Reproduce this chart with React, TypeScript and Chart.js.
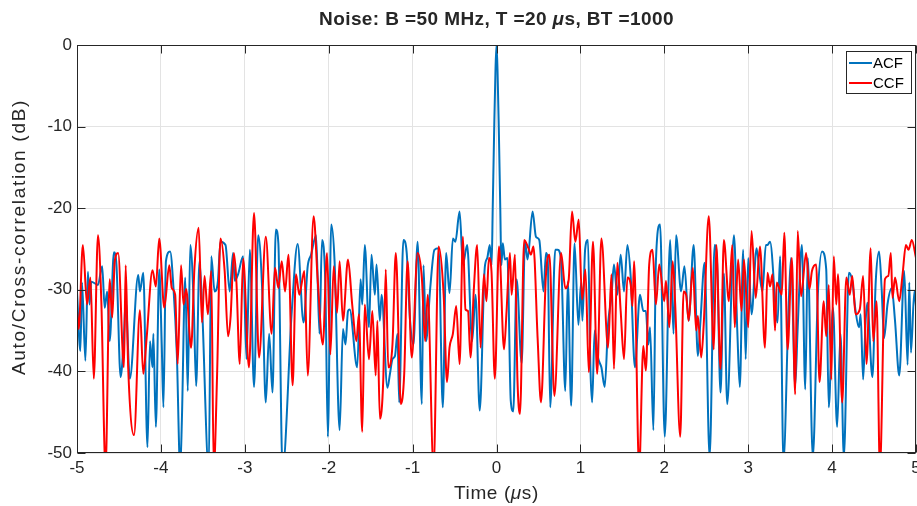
import React, { useEffect, useRef } from "react";
import { Chart, registerables } from "chart.js";

Chart.register(...registerables);

// ---------------- data ----------------
const xTickValues = [-5, -4, -3, -2, -1, 0, 1, 2, 3, 4, 5];
const yTickValues = [0, -10, -20, -30, -40, -50];

const chartTitleParts = ["Noise: B =50 MHz, T =20 ", "\u03bc", "s, BT =1000"];
const xTitleParts = ["Time (", "\u03bc", "s)"];
const yTitleParts = ["Auto/Cross-correlation (dB)"];
const seriesNames = ["ACF", "CCF"];

const acfTime = [
  -5.0, -4.96, -4.94, -4.9, -4.87, -4.85, -4.83, -4.75, -4.7, -4.67, -4.64, -4.61, -4.56, -4.53, -4.48, -4.44, -4.42, -4.37, -4.27, -4.25, -4.21, -4.16, -4.13, -4.1, -4.09, -4.06,
  -4.02, -3.99, -3.97, -3.94, -3.89, -3.85, -3.81, -3.77, -3.75, -3.71, -3.68, -3.65, -3.61, -3.58, -3.54, -3.51, -3.43, -3.4, -3.36, -3.32, -3.29, -3.23, -3.18, -3.14, -3.12, -3.08, -3.02,
  -2.98, -2.94, -2.89, -2.84, -2.79, -2.75, -2.71, -2.67, -2.63, -2.6, -2.55, -2.44, -2.37, -2.3, -2.25, -2.21, -2.15, -2.11, -2.08, -2.04, -2.01,
  -1.97, -1.93, -1.87, -1.83, -1.8, -1.77, -1.75, -1.66, -1.62, -1.6, -1.57, -1.52, -1.49, -1.45, -1.43, -1.39, -1.37, -1.3, -1.27, -1.24, -1.21, -1.18, -1.16, -1.11, -1.07, -1.03,
  -0.99, -0.94, -0.89, -0.87, -0.84, -0.79, -0.74, -0.69, -0.64, -0.6, -0.56, -0.52, -0.49, -0.44, -0.4, -0.35, -0.29, -0.25, -0.2, -0.14, -0.11, -0.08, -0.058, -0.045, -0.027, -0.012, 0,
  0.012, 0.027, 0.045, 0.058, 0.075, 0.1, 0.13, 0.17, 0.2, 0.24, 0.3, 0.34, 0.37, 0.43, 0.47, 0.51, 0.56, 0.59, 0.61, 0.64, 0.7, 0.73, 0.77, 0.82, 0.85, 0.89, 0.93, 0.976,
  1.008, 1.024, 1.056, 1.09, 1.12, 1.14, 1.17, 1.21, 1.25, 1.29, 1.33, 1.37, 1.4, 1.44, 1.48, 1.52, 1.56, 1.6, 1.65, 1.71, 1.75, 1.78, 1.81, 1.83, 1.87, 1.9, 1.95,
  2.005, 2.07, 2.11, 2.14, 2.2, 2.24, 2.29, 2.35, 2.4, 2.43, 2.48, 2.54, 2.6, 2.63, 2.67, 2.71, 2.75, 2.83, 2.87, 2.9, 2.94, 2.97,
  3.0, 3.04, 3.1, 3.14, 3.17, 3.21, 3.23, 3.26, 3.35, 3.38, 3.42, 3.48, 3.51, 3.56, 3.59, 3.64, 3.68, 3.71, 3.77, 3.83, 3.88, 3.93, 3.96,
  4.01, 4.06, 4.1, 4.14, 4.2, 4.24, 4.28, 4.32, 4.34, 4.37, 4.4, 4.42, 4.48, 4.52, 4.56, 4.59, 4.62, 4.66, 4.71, 4.75, 4.8, 4.86, 4.9, 4.92, 4.94, 4.98, 5.0,
];
const acfDb = [
  -30.2, -37.5, -29.1, -38.7, -27.8, -31.8, -29.0, -29.4, -27.1, -32.2, -30.2, -36.3, -25.4, -26.9, -40.7, -35.4, -31.4, -40.9, -28.2, -30.2, -27.9, -49.3, -36.3, -39.5, -35.4, -46.8,
  -27.5, -36.7, -44.4, -26.5, -25.3, -29.8, -37.9, -52, -46.0, -28.5, -42.4, -24.5, -31.4, -41.8, -26.5, -31.8, -52, -25.9, -30.2, -28.9, -24.1, -24.5, -30.2, -25.5, -28.9, -28.1, -25.9,
  -38.5, -25.1, -41.9, -23.3, -30.6, -43.8, -35.4, -42.6, -22.6, -24.3, -52, -32.6, -24.4, -34.0, -27.1, -25.7, -23.3, -35.4, -23.9, -29.4, -48.0,
  -22.0, -26.5, -47.2, -34.8, -36.7, -32.6, -32.4, -39.5, -28.7, -31.8, -24.5, -34.6, -25.7, -30.6, -26.9, -33.8, -30.6, -42.0, -40.3, -38.5, -38.1, -35.4, -43.8, -23.9, -25.5, -33.8,
  -36.7, -24.1, -44.0, -27.0, -36.3, -29.8, -25.1, -24.9, -44.4, -25.5, -30.4, -23.7, -24.1, -20.4, -26.9, -24.5, -36.3, -30.6, -44.8, -27.3, -26.1, -24.5, -27.0, -20, -10, -3, 0,
  -3, -10, -20, -27.0, -24.3, -26.3, -26.1, -43.6, -44.9, -28.7, -39.0, -24.1, -26.3, -20.4, -23.5, -23.9, -30.2, -25.5, -26.1, -44.4, -25.1, -25.1, -26.5, -42.4, -29.0, -44.2, -24.3, -34.3,
  -29.1, -33.8, -25.1, -23.9, -39.9, -43.8, -35.0, -38.3, -39.5, -41.9, -34.2, -30.8, -26.9, -30.6, -25.7, -30.2, -24.5, -28.5, -39.5, -30.6, -32.6, -32.6, -36.7, -34.6, -47.2, -26.5, -22.0,
  -48.0, -23.9, -35.4, -23.3, -30.2, -27.1, -33.8, -24.5, -38.1, -34.0, -26.7, -50.5, -24.5, -26.9, -42.6, -28.0, -44.0, -23.3, -35.0, -41.9, -25.1, -38.5,
  -26.1, -33.0, -24.9, -28.5, -30.2, -24.5, -24.5, -24.1, -34.0, -25.9, -51, -32.6, -26.1, -41.8, -34.6, -24.5, -42.2, -26.1, -50.5, -30.6, -25.3, -27.5, -44.4,
  -32.2, -46.8, -35.4, -50.5, -27.9, -28.9, -32.6, -34.6, -33.0, -41.0, -33.8, -31.6, -40.7, -29.0, -25.3, -29.8, -35.9, -31.8, -29.8, -33.8, -40.5, -27.7, -39.2, -29.1, -37.7, -30.2, -32,
];

const ccfTime = [
  -5.0, -4.98, -4.93, -4.88, -4.84, -4.8, -4.75, -4.71, -4.66, -4.61, -4.58, -4.55, -4.51, -4.44, -4.42, -4.39, -4.32, -4.25, -4.21, -4.17, -4.1, -4.06, -4.02,
  -3.96, -3.9, -3.87, -3.83, -3.8, -3.76, -3.73, -3.7, -3.64, -3.6, -3.55, -3.51, -3.48, -3.44, -3.4, -3.37, -3.33, -3.29, -3.24, -3.2, -3.17, -3.13, -3.1, -3.06, -3.02,
  -2.95, -2.89, -2.83, -2.75, -2.68, -2.64, -2.6, -2.56, -2.52, -2.48, -2.43, -2.39, -2.35, -2.32, -2.29, -2.25, -2.18, -2.13, -2.07, -2.02,
  -1.98, -1.94, -1.9, -1.87, -1.83, -1.77, -1.72, -1.67, -1.64, -1.6, -1.57, -1.52, -1.48, -1.44, -1.42, -1.39, -1.35, -1.32, -1.29, -1.24, -1.2, -1.14, -1.1, -1.06,
  -1.01, -0.94, -0.89, -0.85, -0.82, -0.75, -0.69, -0.63, -0.59, -0.56, -0.52, -0.48, -0.44, -0.4, -0.37, -0.34, -0.31, -0.27, -0.23, -0.19, -0.15, -0.12, -0.09, -0.06, -0.02,
  0.03, 0.09, 0.12, 0.16, 0.18, 0.22, 0.25, 0.28, 0.33, 0.38, 0.41, 0.44, 0.49, 0.53, 0.59, 0.63, 0.69, 0.77, 0.82, 0.86, 0.9, 0.94, 0.98,
  1.02, 1.06, 1.1, 1.15, 1.2, 1.25, 1.33, 1.37, 1.4, 1.44, 1.48, 1.52, 1.56, 1.6, 1.62, 1.64, 1.7, 1.75, 1.78, 1.82, 1.86, 1.9, 1.94,
  2.0, 2.02, 2.06, 2.1, 2.13, 2.19, 2.23, 2.26, 2.29, 2.34, 2.38, 2.4, 2.44, 2.47, 2.53, 2.59, 2.62, 2.67, 2.71, 2.77, 2.81, 2.84, 2.88, 2.92, 2.95, 3.0,
  3.04, 3.09, 3.14, 3.2, 3.23, 3.26, 3.29, 3.32, 3.34, 3.4, 3.43, 3.47, 3.52, 3.56, 3.59, 3.63, 3.69, 3.73, 3.76, 3.81, 3.85, 3.9, 3.93, 3.96, 3.99,
  4.02, 4.05, 4.07, 4.12, 4.17, 4.21, 4.24, 4.28, 4.33, 4.37, 4.41, 4.46, 4.49, 4.53, 4.57, 4.63, 4.67, 4.7, 4.72, 4.75, 4.8, 4.84, 4.88, 4.91, 4.95, 5.0,
];
const ccfDb = [
  -32.6, -34.8, -24.5, -31.8, -28.5, -40.9, -23.3, -31.4, -52, -28.7, -33.4, -26.5, -25.5, -39.5, -27.0, -39.5, -47.8, -32.5, -40.3, -35.9, -27.6, -29.6, -23.7,
  -32.2, -27.0, -29.8, -30.6, -39.1, -27.0, -31.8, -29.9, -37.1, -27.3, -22.4, -34.0, -28.3, -33.0, -27.7, -52, -40.3, -23.7, -27.7, -35.7, -33.4, -25.5, -29.0, -39.1, -26.2,
  -39.5, -20.6, -38.3, -23.5, -35.4, -27.3, -29.8, -26.5, -30.2, -25.7, -41.7, -28.1, -30.6, -29.1, -27.7, -40.5, -21.0, -29.0, -36.7, -25.5,
  -37.9, -27.1, -32.8, -26.5, -33.8, -26.3, -31.8, -36.3, -33.0, -47.4, -31.8, -38.5, -32.6, -40.5, -33.8, -45.8, -41.1, -27.5, -39.5, -36.7, -25.5, -44.0, -40.3, -26.5,
  -38.3, -25.5, -28.5, -36.3, -30.6, -52, -24.7, -30.6, -41.3, -37.1, -35.4, -32.0, -39.1, -23.5, -32.4, -32.6, -38.3, -29.9, -24.5, -37.1, -28.1, -31.4, -26.1, -27.7, -40.9,
  -24.7, -37.3, -32.6, -25.5, -30.6, -25.7, -41.1, -45.2, -23.9, -24.9, -25.7, -24.7, -35.9, -43.8, -28.1, -25.7, -43.0, -25.5, -29.8, -28.8, -20.4, -24.1, -21.4,
  -31.2, -27.5, -40.1, -24.1, -40.3, -23.7, -37.1, -28.1, -39.7, -26.7, -32.6, -38.5, -28.5, -29.4, -32.0, -26.5, -52, -36.9, -39.9, -26.9, -25.1, -31.8, -26.9,
  -31.4, -28.9, -34.6, -26.5, -31.8, -48.0, -30.2, -30.6, -33.8, -27.3, -35.0, -33.2, -38.3, -34.2, -21.0, -37.3, -24.5, -39.7, -23.9, -31.4, -24.5, -34.6, -26.3, -32.6, -26.3, -34.6,
  -22.8, -31.0, -24.7, -37.1, -27.9, -29.6, -28.1, -35.0, -29.1, -30.6, -23.0, -37.3, -26.1, -42.8, -22.8, -30.8, -25.5, -29.9, -27.7, -26.9, -41.3, -31.4, -35.7, -29.4, -41.0,
  -25.9, -31.8, -28.1, -43.8, -28.5, -30.6, -28.3, -33.0, -32.4, -28.3, -39.1, -24.9, -36.3, -31.4, -52, -28.7, -28.3, -25.5, -31.0, -28.5, -31.4, -28.1, -24.5, -25.1, -23.9, -26.1,
];

// ---------------- styling ----------------
const FONT = '"Liberation Sans", Arial, Helvetica, sans-serif';
const AXIS_COLOR = "#262626";
const GRID_COLOR = "#e3e3e3";
const ACF_COLOR = "#0072BD";
const CCF_COLOR = "#FF0000";

function drawRich(
  ctx: any,
  parts: string[],
  cx: number,
  cy: number,
  size: number,
  bold: boolean,
  spacing: number,
  rotate = false
) {
  const base = `${bold ? "bold " : ""}${size}px ${FONT}`;
  const ital = `italic ${bold ? "bold " : ""}${size}px ${FONT}`;
  const fonts = parts.map((_, i) => (i === 1 ? ital : base));
  ctx.save();
  if ("letterSpacing" in ctx) ctx.letterSpacing = `${spacing}px`;
  let total = 0;
  const widths = parts.map((p, i) => {
    ctx.font = fonts[i];
    const w = ctx.measureText(p).width;
    total += w;
    return w;
  });
  ctx.translate(cx, cy);
  if (rotate) ctx.rotate(-Math.PI / 2);
  let x = -total / 2;
  ctx.textBaseline = "middle";
  ctx.textAlign = "left";
  ctx.fillStyle = AXIS_COLOR;
  parts.forEach((p, i) => {
    ctx.font = fonts[i];
    ctx.fillText(p, x, 0);
    x += widths[i];
  });
  ctx.restore();
}

export default function App() {
  const ref = useRef<HTMLCanvasElement>(null);

  useEffect(() => {
    const canvas = ref.current;
    if (!canvas) return;

    const decor = {
      id: "matlabDecor",
      afterDraw(chart: any) {
        const { ctx, chartArea } = chart;
        const { left, right, top, bottom } = chartArea;
        const xs = chart.scales.x;
        const ys = chart.scales.y;
        ctx.save();
        // frame
        ctx.strokeStyle = AXIS_COLOR;
        ctx.lineWidth = 1;
        const L = Math.round(left) + 0.5;
        const R = Math.round(right) - 0.5;
        const T = Math.round(top) + 0.5;
        const B = Math.round(bottom) - 0.5;
        ctx.strokeRect(L, T, R - L, B - T);
        // inward ticks
        const tl = 8;
        ctx.beginPath();
        xTickValues.forEach((v) => {
          const px = Math.round(xs.getPixelForValue(v)) + 0.5;
          ctx.moveTo(px, B);
          ctx.lineTo(px, B - tl);
          ctx.moveTo(px, T);
          ctx.lineTo(px, T + tl);
        });
        yTickValues.forEach((v) => {
          const py = Math.round(ys.getPixelForValue(v)) + 0.5;
          ctx.moveTo(L, py);
          ctx.lineTo(L + tl, py);
          ctx.moveTo(R, py);
          ctx.lineTo(R - tl, py);
        });
        ctx.stroke();

        // title and axis labels
        drawRich(ctx, chartTitleParts, (left + right) / 2, 20, 19, true, 0.4);
        drawRich(ctx, xTitleParts, (left + right) / 2, 494, 19, false, 0.6);
        drawRich(ctx, yTitleParts, 20, 237, 19, false, 1.7, true);

        // legend
        const lx = 846.5, ly = 51.5, lw = 65, lh = 42;
        ctx.fillStyle = "#ffffff";
        ctx.fillRect(lx, ly, lw, lh);
        ctx.strokeStyle = AXIS_COLOR;
        ctx.lineWidth = 1;
        ctx.strokeRect(lx, ly, lw, lh);
        const rows = [
          { name: seriesNames[0], color: ACF_COLOR, y: 63 },
          { name: seriesNames[1], color: CCF_COLOR, y: 83 },
        ];
        rows.forEach((r) => {
          ctx.strokeStyle = r.color;
          ctx.lineWidth = 2;
          ctx.beginPath();
          ctx.moveTo(849, r.y);
          ctx.lineTo(872, r.y);
          ctx.stroke();
          ctx.fillStyle = "#000000";
          ctx.font = `15px ${FONT}`;
          ctx.textAlign = "left";
          ctx.textBaseline = "middle";
          ctx.fillText(r.name, 873, r.y + 0.5);
        });
        ctx.restore();
      },
    };

    const chart = new Chart(canvas, {
      type: "line",
      data: {
        datasets: [
          {
            label: seriesNames[1],
            data: ccfTime.map((t, i) => ({ x: t, y: ccfDb[i] })),
            borderColor: CCF_COLOR,
            borderWidth: 2,
            pointRadius: 0,
            cubicInterpolationMode: "monotone",
            fill: false,
            clip: 0,
            order: 0,
          },
          {
            label: seriesNames[0],
            data: acfTime.map((t, i) => ({ x: t, y: acfDb[i] })),
            borderColor: ACF_COLOR,
            borderWidth: 2,
            pointRadius: 0,
            cubicInterpolationMode: "monotone",
            fill: false,
            clip: 0,
            order: 1,
          },
        ],
      },
      options: {
        responsive: false,
        animation: false,
        devicePixelRatio: 1,
        layout: { padding: { top: 45, right: 1, left: 0, bottom: 0 } },
        plugins: {
          legend: { display: false },
          tooltip: { enabled: false },
          title: { display: false },
        },
        scales: {
          x: {
            type: "linear",
            min: -5,
            max: 5,
            afterBuildTicks: (s: any) => {
              s.ticks = xTickValues.map((v) => ({ value: v }));
            },
            afterFit: (s: any) => {
              s.height = 53;
              s.paddingLeft = 0;
              s.paddingRight = 0;
            },
            ticks: {
              color: AXIS_COLOR,
              font: { family: FONT, size: 17 },
              padding: 5,
              maxRotation: 0,
              autoSkip: false,
            },
            grid: { color: GRID_COLOR, drawTicks: false, lineWidth: 1 },
            border: { display: false },
          },
          y: {
            type: "linear",
            min: -50,
            max: 0,
            afterBuildTicks: (s: any) => {
              s.ticks = yTickValues.map((v) => ({ value: v }));
            },
            afterFit: (s: any) => {
              s.width = 77;
              s.paddingTop = 0;
              s.paddingBottom = 0;
            },
            ticks: {
              color: AXIS_COLOR,
              font: { family: FONT, size: 17 },
              padding: 5,
              autoSkip: false,
            },
            grid: { color: GRID_COLOR, drawTicks: false, lineWidth: 1 },
            border: { display: false },
          },
        },
      },
      plugins: [decor],
    } as any);

    return () => chart.destroy();
  }, []);

  return (
    <div style={{ position: "fixed", left: 0, top: 0, width: 917, height: 506, background: "#ffffff" }}>
      <canvas ref={ref} width={917} height={506} style={{ display: "block", width: 917, height: 506 }} />
    </div>
  );
}
